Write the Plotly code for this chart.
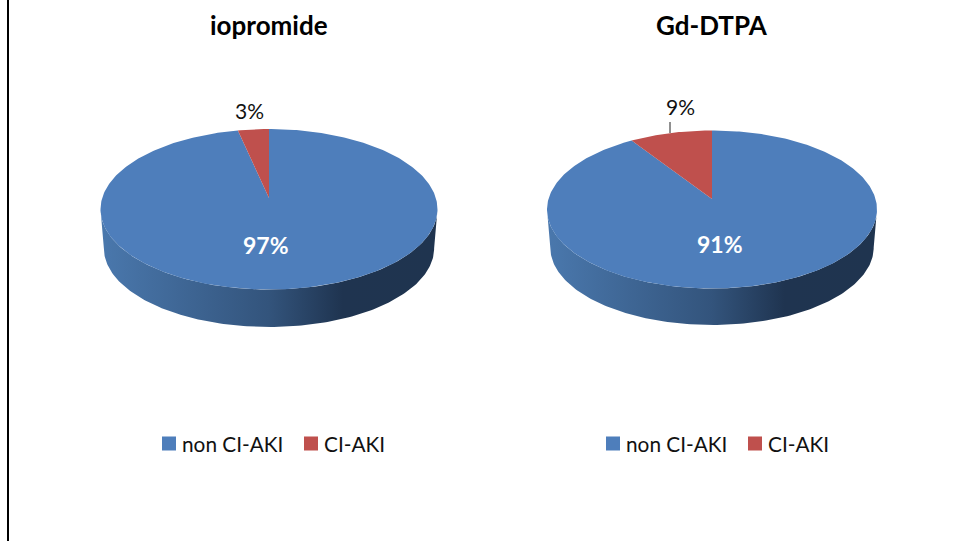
import numpy as np
import plotly.graph_objects as go

# ---- data ----
categories = ["non CI-AKI", "CI-AKI"]
chart_titles = ["iopromide", "Gd-DTPA"]
iopromide_values = [96.6, 3.4]
gd_dtpa_values = [90.8, 9.2]
iopromide_labels = ["97%", "3%"]
gd_dtpa_labels = ["91%", "9%"]

# ---- style / layout ----
W, H = 957, 541
BLUE, RED = "#4e7ebb", "#bf504d"
FONT = "Lato"
SIDE = [[0, "#4a78ad"], [0.5, "#33547c"], [0.72, "#1f3450"], [1, "#1f344f"]]
PIES = [
    dict(cx=269, left=100, right=437, top=129, bottom=289.5, apex=198, low=327),
    dict(cx=712, left=547, right=877, top=130.5, bottom=288.5, apex=199, low=325),
]
LABELS = [
    dict(main=(266, 245), small=(249, 110.5), title=(269, 25), leader=None),
    dict(main=(720, 244), small=(680, 106), title=(712, 25), leader=(670, 122, 133)),
]
LEGENDS = [("legend", 142 / W), ("legend2", 586 / W)]


def projector(p, yshift=0.0, scale=1.0):
    up, dn = p["apex"] - p["top"], p["bottom"] - p["apex"]
    k = (dn - up) / (dn + up)
    a = dn * (1 - k)
    rx = (p["right"] - p["left"]) / 2
    b = rx * np.sqrt(1 - k * k)

    def f(t):
        X, Y = np.sin(t), np.cos(t)
        d = 1 + k * Y
        return p["cx"] + scale * b * X / d, p["apex"] + yshift - scale * a * Y / d
    return f, k


fig = go.Figure()
series = [iopromide_values, gd_dtpa_values]
texts = [iopromide_labels, gd_dtpa_labels]

for i, p in enumerate(PIES):
    f, k = projector(p)
    scale = 0.98
    shift = p["low"] - scale * (p["bottom"] - p["apex"]) - p["apex"]
    g, _ = projector(p, shift, scale)
    t0 = np.arccos(-k)
    ts = np.linspace(t0, 2 * np.pi - t0, 160)
    xt, yt = f(ts)
    xb, yb = g(ts[::-1])
    fig.add_trace(go.Scatter(
        x=np.r_[xt, xb], y=np.r_[yt, yb], mode="lines", fill="toself",
        line=dict(width=0), hoverinfo="skip", showlegend=False,
        fillgradient=dict(type="horizontal", colorscale=SIDE,
                          start=p["left"], stop=p["right"]),
    ))
    total = sum(series[i])
    start = 0.0
    for val, col in zip(series[i], [BLUE, RED]):
        end = start + val / total * 2 * np.pi
        ang = np.linspace(start, end, max(int(val * 4), 12))
        xs, ys = f(ang)
        fig.add_trace(go.Scatter(
            x=np.r_[p["cx"], xs, p["cx"]], y=np.r_[p["apex"], ys, p["apex"]],
            mode="lines", fill="toself", fillcolor=col, line=dict(width=0),
            hoverinfo="skip", showlegend=False,
        ))
        start = end

    lab = LABELS[i]
    if lab["leader"]:
        lx, y0, y1 = lab["leader"]
        fig.add_trace(go.Scatter(x=[lx, lx], y=[y0, y1], mode="lines",
                                 line=dict(color="#222222", width=1),
                                 hoverinfo="skip", showlegend=False))
    for (name, col) in zip(categories, [BLUE, RED]):
        fig.add_trace(go.Scatter(
            x=[None], y=[None], mode="markers", name=name, legend=LEGENDS[i][0],
            marker=dict(symbol="square", size=14, color=col),
        ))
    fig.add_annotation(x=lab["title"][0], y=lab["title"][1], text=f"<b>{chart_titles[i]}</b>",
                       showarrow=False, font=dict(family=FONT, size=26, color="#000000"))
    fig.add_annotation(x=lab["main"][0], y=lab["main"][1], text=f"<b>{texts[i][0]}</b>",
                       showarrow=False, font=dict(family=FONT, size=23, color="#ffffff"))
    fig.add_annotation(x=lab["small"][0], y=lab["small"][1], text=texts[i][1],
                       showarrow=False, font=dict(family=FONT, size=21, color="#111111"))

legend_style = dict(orientation="h", xanchor="left", yanchor="middle", y=1 - 444 / H,
                    bgcolor="rgba(0,0,0,0)", font=dict(family=FONT, size=20.8, color="#111111"),
                    entrywidth=97, entrywidthmode="pixels",
                    itemclick=False, itemdoubleclick=False)
fig.update_layout(
    width=W, height=H, margin=dict(l=0, r=0, t=0, b=0),
    paper_bgcolor="#ffffff", plot_bgcolor="#ffffff", showlegend=True,
    xaxis=dict(range=[0, W], visible=False, fixedrange=True),
    yaxis=dict(range=[H, 0], visible=False, fixedrange=True),
    legend=dict(x=LEGENDS[0][1], **legend_style),
    legend2=dict(x=LEGENDS[1][1], **legend_style),
    shapes=[dict(type="line", xref="x", yref="paper", x0=8, x1=8, y0=0, y1=1,
                 line=dict(color="#000000", width=2))],
)
POST = """
document.body.style.margin = '0';
document.body.style.overflow = 'hidden';
document.querySelectorAll('.legendsymbols').forEach(function (s) {
  s.setAttribute('transform', 'translate(7,0)');
});
"""
fig.write_html("out.html", config=dict(displayModeBar=False), post_script=POST)
